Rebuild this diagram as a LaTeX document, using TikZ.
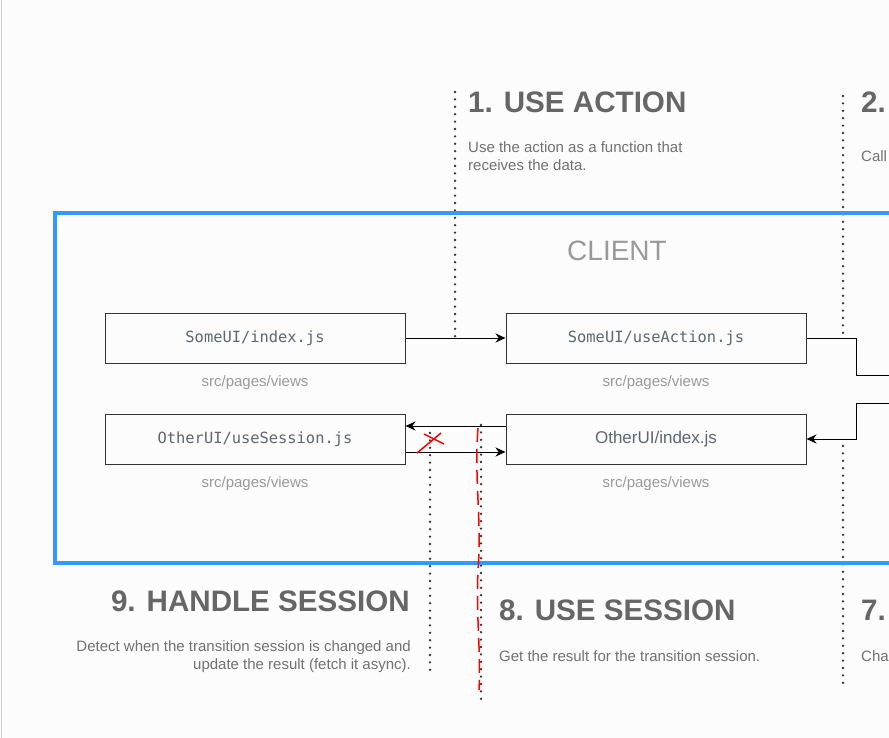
\documentclass[tikz,border=0pt]{standalone}
\usepackage{fontspec}
\setmainfont{Liberation Sans}
\setmonofont{DejaVu Sans Mono}
\usetikzlibrary{arrows.meta, positioning}
\definecolor{clientblue}{HTML}{3399FF}
\definecolor{titlegray}{HTML}{666666}
\definecolor{descgray}{HTML}{717171}
\definecolor{labelgray}{HTML}{999999}
\definecolor{codegray}{HTML}{5F6671}

\begin{document}
\begin{tikzpicture}[x=1pt, y=-1pt,
        filebox/.style={rectangle, draw=black!80, line width=1pt, minimum width=300pt, minimum height=50pt, text=codegray, font=\fontsize{15.4}{18}\ttfamily},
        pathlabel/.style={inner sep=0pt, text=labelgray, font=\fontsize{15}{18}\selectfont},
        steptitle/.style={inner sep=0pt, text=titlegray, font=\fontsize{29.6}{34}\selectfont\bfseries},
        stepdesc/.style={inner sep=0pt, text=descgray, font=\fontsize{15}{18}\selectfont},
        flow/.style={draw=black, line width=1pt, -{Stealth[length=10pt, width=9pt]}},
        divider/.style={draw=black!80, line width=2.6pt, line cap=round, dash pattern=on 0pt off 7.4pt},
        scribble/.style={draw=red, line width=1.5pt},
        node distance=50pt and 100pt
        ]

        \useasboundingbox (0,0) rectangle (889,738);
        \clip (0,0) rectangle (889,738);
        \fill[white!99!black] (0,0) rectangle (889,738);
        \draw[black!20, line width=1pt] (1,0) -- (1,738);

        % Step separators
        \draw[divider] (455,92) -- (455,338);
        \draw[divider] (843,96) -- (843,338);
        \draw[divider] (430,433) -- (430,676);
        \draw[divider] (481,425) -- (481,700);
        \draw[divider] (843,446) -- (843,688);

        % Client area
        \draw[clientblue, line width=4pt] (55,213) rectangle (900,563);
        \node (client) [font=\fontsize{28}{34}\selectfont, text=labelgray] at (617,251) {CLIENT};

        % Nodes
        \node (someindex) [filebox] at (255,338) {SomeUI/index.js};
        \node (useaction) [filebox, right=of someindex] {SomeUI/useAction.js};
        \node (usesession) [filebox, below=of someindex] {OtherUI/useSession.js};
        \node (otherindex) [filebox, right=of usesession, font=\fontsize{17}{20}\selectfont] {OtherUI/index.js};

        \node (someindexpath) [pathlabel, below=12pt of someindex] {src/pages/views};
        \node (useactionpath) [pathlabel, below=12pt of useaction] {src/pages/views};
        \node (usesessionpath) [pathlabel, below=12pt of usesession] {src/pages/views};
        \node (otherindexpath) [pathlabel, below=12pt of otherindex] {src/pages/views};

        % Steps
        \node (step1) [steptitle, anchor=base west] at (468,113) {1. USE ACTION};
        \node (step1desc) [stepdesc, anchor=north west, align=left] at (468,141) {Use the action as a function that\\receives the data.};
        \node (step2) [steptitle, anchor=base west] at (861,113) {2.};
        \node (step2desc) [stepdesc, anchor=base west] at (861,162) {Call};
        \node (step9) [steptitle, anchor=base east] at (410,611) {9. HANDLE SESSION};
        \node (step9desc) [stepdesc, anchor=north east, align=right] at (411,640) {Detect when the transition session is changed and\\update the result (fetch it async).};
        \node (step8) [steptitle, anchor=base west] at (499,620) {8. USE SESSION};
        \node (step8desc) [stepdesc, anchor=base west] at (499,661) {Get the result for the transition session.};
        \node (step7) [steptitle, anchor=base west] at (861,620) {7.};
        \node (step7desc) [stepdesc, anchor=base west] at (861,661) {Cha};

        % Arrows
        \coordinate (outright) at (895,375);
        \coordinate (inright) at (895,403);
        \draw [flow] (someindex) -- (useaction);
        \draw [flow, -] (useaction.east) -- ++(50,0) |- (outright);
        \draw [flow] (inright) -| ([xshift=50pt]otherindex.east) -- (otherindex.east);
        \draw [flow] ([yshift=13pt]otherindex.west) -- ([yshift=13pt]usesession.east);
        \draw [flow] ([yshift=-13pt]usesession.east) -- ([yshift=-13pt]otherindex.west);

        % Red marks
        \draw [scribble] (417,453) -- (441,433);
        \draw [scribble] (424,434) -- (444,444);
        \draw [scribble, dash pattern=on 14pt off 7pt] (478,428) .. controls (474,480) and (482,520) .. (478,570) .. controls (476,620) and (481,650) .. (479,690);

    \end{tikzpicture}
\end{document}
